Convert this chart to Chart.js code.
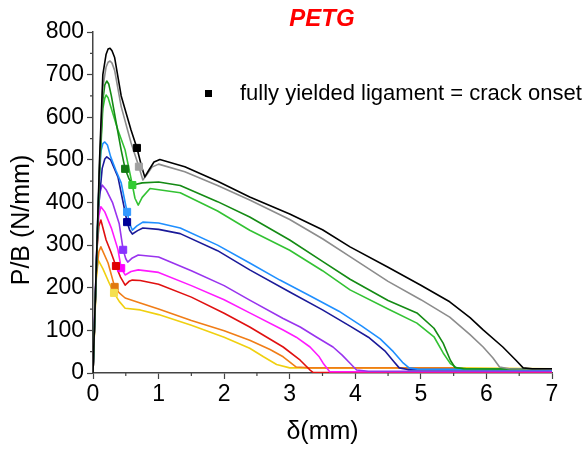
<!DOCTYPE html>
<html>
<head>
<meta charset="utf-8">
<script src="https://cdn.jsdelivr.net/npm/chart.js"></script>
<style>
  html, body { margin: 0; padding: 0; background: #fff; }
  #wrap { width: 588px; height: 449px; }
</style>
</head>
<body>
<div id="wrap"><canvas id="chart" width="588" height="449"></canvas></div>
<script>
// PETG - P/B gegen delta, 11 Proben

const xTicks = [0, 1, 2, 3, 4, 5, 6, 7];
const yTicks = [0, 100, 200, 300, 400, 500, 600, 700, 800];

const blackX = [0, 0.1, 0.15, 0.2, 0.23, 0.26, 0.29, 0.33, 0.43, 0.58, 0.67, 0.74, 0.79, 0.86, 0.93, 1.02, 1.4, 1.9, 2.39, 3.0, 3.5, 3.92, 4.5, 5.0, 5.44, 5.75, 5.95, 6.25, 6.45, 6.56, 6.7, 7.0];
const blackY = [0, 500, 700, 748, 760, 762, 756, 740, 650, 570, 528, 485, 460, 478, 495, 501, 484, 450, 413, 373, 336, 296, 248, 206, 167, 130, 101, 61, 30, 12, 10, 10];

const grayX = [0, 0.1, 0.15, 0.2, 0.23, 0.26, 0.29, 0.33, 0.43, 0.58, 0.7, 0.76, 0.82, 0.9, 1.0, 1.4, 1.9, 2.39, 3.0, 3.5, 3.92, 4.5, 5.0, 5.44, 5.75, 5.95, 6.1, 6.2, 6.35, 7.0];
const grayY = [0, 490, 670, 718, 729, 732, 727, 710, 625, 540, 484, 453, 465, 483, 490, 472, 440, 406, 360, 315, 273, 215, 172, 131, 90, 61, 35, 14, 10, 9];

const dkGreenX = [0, 0.1, 0.15, 0.18, 0.21, 0.24, 0.28, 0.35, 0.43, 0.49, 0.55, 0.61, 0.75, 1.0, 1.33, 1.9, 2.39, 3.0, 3.5, 3.92, 4.5, 4.94, 5.2, 5.34, 5.45, 5.52, 5.65, 7.0];
const dkGreenY = [0, 480, 640, 676, 685, 678, 650, 590, 523, 479, 455, 441, 446, 448, 440, 402, 366, 312, 262, 220, 170, 141, 105, 70, 30, 13, 10, 9];

const ltGreenX = [0, 0.1, 0.15, 0.18, 0.2, 0.23, 0.27, 0.38, 0.49, 0.6, 0.64, 0.69, 0.75, 0.87, 1.33, 1.9, 2.39, 3.0, 3.5, 3.92, 4.5, 4.94, 5.2, 5.34, 5.45, 5.55, 5.7, 7.0];
const ltGreenY = [0, 470, 620, 645, 652, 646, 625, 570, 523, 441, 410, 394, 412, 433, 423, 380, 335, 288, 240, 195, 150, 117, 85, 47, 22, 12, 10, 9];

const ltBlueX = [0, 0.08, 0.12, 0.15, 0.18, 0.22, 0.27, 0.35, 0.43, 0.49, 0.52, 0.56, 0.6, 0.67, 0.76, 1.0, 1.33, 1.9, 2.39, 2.85, 3.3, 3.75, 4.1, 4.38, 4.58, 4.72, 4.82, 4.95, 7.0];
const ltBlueY = [0, 400, 520, 538, 542, 535, 507, 475, 446, 400, 378, 350, 335, 345, 354, 352, 340, 300, 258, 218, 182, 145, 110, 80, 50, 25, 12, 9, 8];

const navyX = [0, 0.08, 0.14, 0.18, 0.21, 0.27, 0.38, 0.46, 0.52, 0.56, 0.6, 0.68, 0.76, 1.0, 1.33, 1.9, 2.39, 3.0, 3.5, 3.92, 4.2, 4.45, 4.58, 4.67, 4.8, 7.0];
const navyY = [0, 380, 480, 502, 507, 500, 460, 400, 354, 335, 326, 334, 340, 337, 327, 287, 242, 190, 148, 110, 84, 52, 28, 12, 8, 8];

const purpleX = [0, 0.07, 0.1, 0.14, 0.2, 0.3, 0.4, 0.46, 0.5, 0.53, 0.6, 0.69, 1.0, 1.5, 2.0, 2.39, 2.9, 3.16, 3.4, 3.66, 3.8, 3.92, 4.02, 4.2, 7.0];
const purpleY = [0, 340, 420, 441, 430, 399, 350, 289, 268, 260, 270, 277, 272, 240, 205, 171, 128, 108, 85, 61, 42, 23, 7, 4, 4];

const magentaX = [0, 0.06, 0.09, 0.12, 0.18, 0.28, 0.38, 0.43, 0.49, 0.58, 0.69, 1.0, 1.5, 2.0, 2.39, 2.9, 3.1, 3.31, 3.45, 3.51, 3.61, 3.8, 7.0];
const magentaY = [0, 300, 370, 390, 378, 340, 290, 246, 230, 238, 242, 236, 205, 172, 141, 101, 84, 61, 38, 23, 3, 3, 3];

const redX = [0, 0.06, 0.09, 0.12, 0.2, 0.27, 0.35, 0.42, 0.49, 0.55, 0.6, 0.72, 1.0, 1.5, 2.0, 2.39, 2.9, 3.16, 3.31, 3.36, 3.6, 7.0];
const redY = [0, 290, 345, 359, 312, 285, 251, 225, 206, 215, 218, 217, 208, 178, 140, 108, 61, 30, 7, 1, 1, 1];

const orangeX = [0, 0.05, 0.09, 0.12, 0.23, 0.33, 0.4, 0.49, 0.72, 1.0, 1.5, 2.0, 2.39, 2.7, 2.9, 3.1, 3.3, 5.5, 5.7, 7.0];
const orangeY = [0, 230, 285, 296, 258, 202, 188, 176, 164, 150, 123, 99, 77, 55, 38, 14, 12, 12, 10, 9];

const yellowX = [0, 0.05, 0.08, 0.15, 0.25, 0.32, 0.4, 0.49, 0.72, 1.0, 1.5, 2.0, 2.39, 2.6, 2.8, 3.0, 5.5, 7.0];
const yellowY = [0, 220, 265, 245, 210, 188, 168, 152, 148, 137, 112, 84, 58, 38, 20, 12, 12, 10];

// Rissbeginn (voll plastifiziertes Ligament)
const onsetX = [0.67, 0.7, 0.49, 0.6, 0.52, 0.52, 0.46, 0.43, 0.35, 0.33, 0.32];
const onsetY = [528, 484, 479, 441, 378, 354, 289, 246, 251, 202, 188];

const lineColors = ['#000000', '#8c8c8c', '#148a14', '#33c233', '#1f8fff', '#1a1a99', '#9933ee', '#ff1aff', '#e01010', '#f07d17', '#f0d010'];
const onsetColors = ['#000000', '#a0a0a0', '#137a13', '#33cc33', '#3399ff', '#000099', '#8833ff', '#ff00ff', '#e00000', '#e07810', '#f5e050'];

const curves = [
  [blackX, blackY], [grayX, grayY], [dkGreenX, dkGreenY], [ltGreenX, ltGreenY],
  [ltBlueX, ltBlueY], [navyX, navyY], [purpleX, purpleY], [magentaX, magentaY],
  [redX, redY], [orangeX, orangeY], [yellowX, yellowY]
];

const FONT = "'Liberation Sans', Arial, sans-serif";

const datasets = curves.map((c, i) => ({
  data: c[0].map((x, k) => ({ x: x, y: c[1][k] })),
  borderColor: lineColors[i],
  borderWidth: 1.6,
  borderJoinStyle: 'round',
  pointRadius: 0,
  fill: false,
  tension: 0,
  order: i + 1
}));

datasets.push({
  type: 'scatter',
  data: onsetX.map((x, k) => ({ x: x, y: onsetY[k] })),
  pointStyle: 'rect',
  pointRadius: 5,
  pointBackgroundColor: onsetColors,
  pointBorderColor: onsetColors,
  showLine: false,
  order: 0
});

// kleine Zwischenstriche, Titel, Legende, Achsentitel
const decor = {
  id: 'decor',
  afterDraw(chart) {
    const ctx = chart.ctx;
    const xs = chart.scales.x, ys = chart.scales.y;
    const area = chart.chartArea;
    ctx.save();
    ctx.strokeStyle = '#444';
    ctx.lineWidth = 1.2;
    ctx.beginPath();
    for (let v = 50; v < 800; v += 100) {
      const p = ys.getPixelForValue(v);
      ctx.moveTo(area.left - 3, p);
      ctx.lineTo(area.left, p);
    }
    for (let v = 0.5; v < 7; v += 1) {
      const p = xs.getPixelForValue(v);
      ctx.moveTo(p, area.bottom);
      ctx.lineTo(p, area.bottom + 3);
    }
    ctx.stroke();

    ctx.fillStyle = '#ff0000';
    ctx.font = 'italic bold 24px ' + FONT;
    ctx.textAlign = 'center';
    ctx.textBaseline = 'middle';
    ctx.fillText('PETG', 322, 19);

    ctx.fillStyle = '#000';
    ctx.fillRect(205, 90, 7, 7);
    ctx.font = '22px ' + FONT;
    ctx.textAlign = 'left';
    ctx.fillText('fully yielded ligament = crack onset', 240, 94);

    ctx.font = '25px ' + FONT;
    ctx.textAlign = 'center';
    ctx.fillText('δ(mm)', (area.left + area.right) / 2, 432);
    ctx.translate(22, 220);
    ctx.rotate(-Math.PI / 2);
    ctx.fillText('P/B (N/mm)', 0, 0);
    ctx.restore();
  }
};

new Chart(document.getElementById('chart'), {
  type: 'line',
  data: { datasets: datasets },
  options: {
    responsive: false,
    animation: false,
    layout: { padding: { top: 32, right: 36, left: 0, bottom: 0 } },
    plugins: { legend: { display: false }, tooltip: { enabled: false } },
    scales: {
      x: {
        type: 'linear',
        min: 0,
        max: 7,
        afterBuildTicks: (s) => { s.ticks = xTicks.map(v => ({ value: v })); },
        afterFit: (s) => { s.height = 76; },
        ticks: { color: '#000', font: { family: FONT, size: 23 }, padding: 2, maxRotation: 0 },
        grid: { drawOnChartArea: false, tickLength: 6, color: '#444', tickWidth: 1.2 },
        border: { color: '#444', width: 1.5 }
      },
      y: {
        min: 0,
        max: 800,
        afterBuildTicks: (s) => { s.ticks = yTicks.map(v => ({ value: v })); },
        afterFit: (s) => { s.width = 93; },
        ticks: { color: '#000', font: { family: FONT, size: 23 }, padding: 3 },
        grid: { drawOnChartArea: false, tickLength: 6, color: '#444', tickWidth: 1.2 },
        border: { color: '#444', width: 1.5 }
      }
    }
  },
  plugins: [decor]
});
</script>
</body>
</html>
